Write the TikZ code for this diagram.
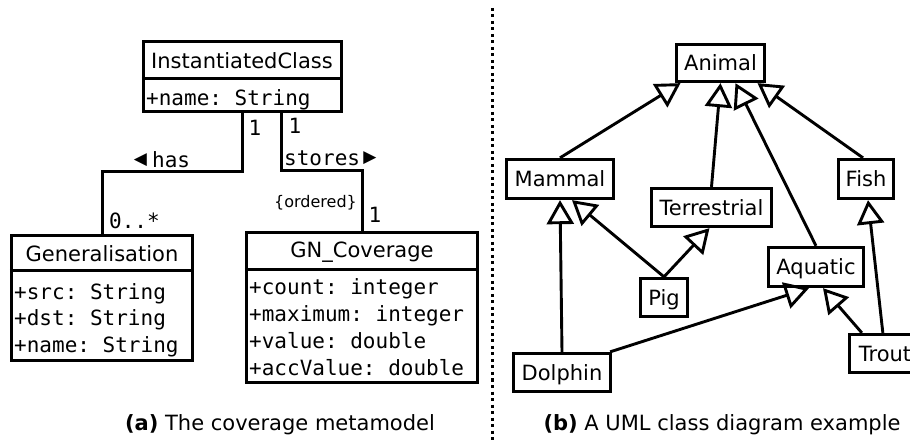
\documentclass[tikz,border=0pt]{standalone}
\usepackage{fontspec}
\setmainfont{DejaVu Sans}
\setmonofont{DejaVu Sans Mono}
\usetikzlibrary{arrows.meta,calc}
\newcommand{\bigf}{\fontsize{21}{25}\selectfont}
\tikzset{
  cls/.style={draw, line width=3.3pt, inner sep=0pt},
  lbl/.style={cls, font=\bigf, text height=15.3pt, text depth=0pt},
  divider/.style={line width=3.3pt},
  conn/.style={line width=3pt},
  genarrow/.style={line width=2.9pt, -{Triangle[open, length=24pt, width=27pt]}},
  plain/.style={inner sep=0pt, font=\bigf},
  mono/.style={inner sep=0pt, font=\bigf\ttfamily, anchor=base west},
  monoc/.style={inner sep=0pt, font=\bigf\ttfamily},
  sep/.style={line width=3pt, dash pattern=on 3pt off 3.5pt},
}
\begin{document}
\begin{tikzpicture}[x=1pt,y=-1pt]
\useasboundingbox (0,0) rectangle (910,443);
\clip (0,0) rectangle (910,443);

% ---------- (a) metamodel ----------
\node[cls, minimum width=198pt, minimum height=70pt] (ic) at (242.5,76.5) {};
\draw[divider] ($(ic.north west)+(0,39)$) -- ($(ic.north east)+(0,39)$);
\node[plain, anchor=base] (ictitle) at (242,68.3) {InstantiatedClass};
\node[mono] (icattr) at (146,106) {+name: String};

\node[cls, minimum width=181pt, minimum height=125pt] (gen) at (102,298) {};
\draw[divider] ($(gen.north west)+(0,36.5)$) -- ($(gen.north east)+(0,36.5)$);
\node[plain, anchor=base] (gentitle) at (102,261.7) {Generalisation};
\node[mono] (gena1) at (14,299.3) {+src: String};
\node[mono] (gena2) at (14,326) {+dst: String};
\node[mono] (gena3) at (14,352.7) {+name: String};

\node[cls, minimum width=231pt, minimum height=150pt] (gn) at (362,307.5) {};
\draw[divider] ($(gn.north west)+(0,38.5)$) -- ($(gn.north east)+(0,38.5)$);
\node[plain, anchor=base] (gntitle) at (362,257.3) {GN\_Coverage};
\node[mono] (gna1) at (249,295) {+count: integer};
\node[mono] (gna2) at (249,321.7) {+maximum: integer};
\node[mono] (gna3) at (249,348.3) {+value: double};
\node[mono] (gna4) at (249,375) {+accValue: double};

\coordinate (h1) at (242,172);
\coordinate (h2) at (102,172);
\draw[conn] (ic.south -| h1) -- (h1) -- (h2) -- (gen.north);
\coordinate (s1) at (281,171);
\coordinate (s2) at (362,171);
\draw[conn] (ic.south -| s1) -- (s1) -- (s2) -- (gn.north);

\node[monoc] (m1) at (255,127.5) {1};
\node[monoc] (m2) at (295,125.5) {1};
\node[inner sep=0pt, font=\fontsize{17}{20}\selectfont] (hastri) at (140.5,160) {◀};
\node[mono] (has) at (152,168) {has};
\node[mono] (stores) at (284,166) {stores};
\node[inner sep=0pt, font=\fontsize{17}{20}\selectfont] (storestri) at (370,158) {▶};
\node[mono] (m3) at (109,229) {0..*};
\node[inner sep=0pt, font=\fontsize{16}{19}\selectfont] (ord) at (315.5,203) {\{ordered\}};
\node[monoc] (m4) at (375,215) {1};

\node[plain, anchor=base] (capa) at (280,430) {\textbf{(a)} The coverage metamodel};

% ---------- separator ----------
\draw[sep] (492,8) -- (492,443);

% ---------- (b) class diagram ----------
\node[lbl, minimum width=88pt, minimum height=37pt] (animal) at (720.5,63) {Animal};
\node[lbl, minimum width=107pt, minimum height=39pt] (mammal) at (560,179) {Mammal};
\node[lbl, minimum width=120pt, minimum height=38pt] (terr) at (711.5,207.5) {Terrestrial};
\node[lbl, minimum width=55pt, minimum height=39pt] (fish) at (866,179) {Fish};
\node[lbl, minimum width=95pt, minimum height=39pt] (aquatic) at (816,267) {Aquatic};
\node[lbl, minimum width=47pt, minimum height=38pt] (pig) at (664,297.5) {Pig};
\node[lbl, minimum width=97pt, minimum height=38pt] (dolphin) at (562,372.5) {Dolphin};
\node[lbl, minimum width=71pt, minimum height=38pt] (trout) at (885,353.5) {Trout};

\draw[genarrow] (mammal.north) -- ($(animal.south)+(-40,0)$);
\draw[genarrow] (terr.north) -- (animal.south);
\draw[genarrow] (aquatic.north) -- ($(animal.south)+(15,0)$);
\draw[genarrow] ($(fish.north)+(-3,0)$) -- ($(animal.south)+(37,0)$);
\draw[genarrow] (dolphin.north) -- (mammal.south);
\draw[genarrow] (pig.north) -- ($(mammal.south)+(12,0)$);
\draw[genarrow] (pig.north) -- ($(terr.south)+(-2,0)$);
\draw[genarrow] ($(dolphin.north east)+(-2,0)$) -- ($(aquatic.south)+(-7,0)$);
\draw[genarrow] ($(trout.north west)+(14,0)$) -- ($(aquatic.south)+(7,0)$);
\draw[genarrow] ($(trout.north west)+(35,0)$) -- ($(fish.south)+(2,0)$);

\node[plain, anchor=base] (capb) at (722,430) {\textbf{(b)} A UML class diagram example};
\end{tikzpicture}
\end{document}
